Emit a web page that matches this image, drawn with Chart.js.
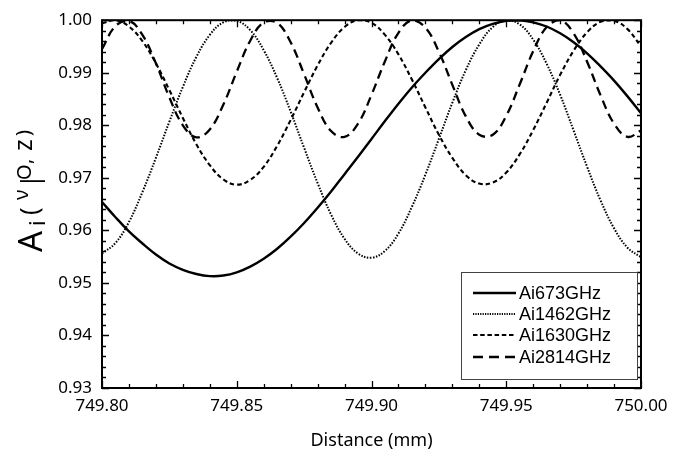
<!DOCTYPE html>
<html lang="en">
<head>
    <meta charset="UTF-8">
    <title>Ai vs distance</title>
    <script src="https://cdn.jsdelivr.net/npm/chart.js@4.4.1/dist/chart.umd.min.js"></script>
    <style>
        html, body { margin: 0; padding: 0; background: #fff; }
        #wrap { width: 694px; height: 457px; }
    </style>
</head>
<body>
<div id="wrap"><canvas id="myChart" width="694" height="457"></canvas></div>
<script>
    // distance in mm, one reading every 0.005 mm
    const distance = [
        749.800, 749.805, 749.810, 749.815, 749.820, 749.825, 749.830, 749.835, 749.840, 749.845,
        749.850, 749.855, 749.860, 749.865, 749.870, 749.875, 749.880, 749.885, 749.890, 749.895,
        749.900, 749.905, 749.910, 749.915, 749.920, 749.925, 749.930, 749.935, 749.940, 749.945,
        749.950, 749.955, 749.960, 749.965, 749.970, 749.975, 749.980, 749.985, 749.990, 749.995,
        750.000
    ];
    const ai673 = [
        0.9654, 0.9625, 0.9598, 0.9575, 0.9554, 0.9537, 0.9525, 0.9517, 0.9513, 0.9514,
        0.9520, 0.9531, 0.9546, 0.9565, 0.9588, 0.9614, 0.9643, 0.9674, 0.9707, 0.9740,
        0.9774, 0.9808, 0.9841, 0.9872, 0.9900, 0.9926, 0.9949, 0.9968, 0.9983, 0.9993,
        0.9999, 1.0000, 0.9996, 0.9988, 0.9975, 0.9958, 0.9937, 0.9912, 0.9885, 0.9855,
        0.9823
    ];
    const ai1462 = [
        0.9556, 0.9576, 0.9616, 0.9673, 0.9738, 0.9807, 0.9873, 0.9930, 0.9972, 0.9996,
        0.9999, 0.9981, 0.9943, 0.9890, 0.9826, 0.9757, 0.9690, 0.9630, 0.9584, 0.9556,
        0.9548, 0.9561, 0.9594, 0.9645, 0.9706, 0.9774, 0.9843, 0.9905, 0.9954, 0.9987,
        1.0000, 0.9992, 0.9963, 0.9917, 0.9858, 0.9790, 0.9721, 0.9657, 0.9604, 0.9567,
        0.9549
    ];
    const ai1630 = [
        0.9994, 1.0000, 0.9988, 0.9960, 0.9918, 0.9867, 0.9814, 0.9764, 0.9724, 0.9697,
        0.9687, 0.9696, 0.9721, 0.9761, 0.9810, 0.9863, 0.9914, 0.9957, 0.9987, 1.0000,
        0.9995, 0.9972, 0.9935, 0.9887, 0.9834, 0.9782, 0.9738, 0.9705, 0.9689, 0.9691,
        0.9710, 0.9745, 0.9791, 0.9843, 0.9896, 0.9942, 0.9977, 0.9997, 0.9999, 0.9983,
        0.9950
    ];
    const ai2814 = [
        0.9945, 0.9989, 0.9999, 0.9972, 0.9918, 0.9853, 0.9800, 0.9777, 0.9792, 0.9839,
        0.9902, 0.9961, 0.9996, 0.9995, 0.9958, 0.9897, 0.9834, 0.9789, 0.9778, 0.9803,
        0.9858, 0.9922, 0.9976, 1.0000, 0.9986, 0.9940, 0.9877, 0.9817, 0.9782, 0.9782,
        0.9818, 0.9878, 0.9941, 0.9987, 1.0000, 0.9975, 0.9921, 0.9857, 0.9803, 0.9778,
        0.9790
    ];
    const seriesNames = ['Ai673GHz', 'Ai1462GHz', 'Ai1630GHz', 'Ai2814GHz'];
    const xTickLabels = ['749.80', '749.85', '749.90', '749.95', '750.00'];
    const yTickLabels = ['0.93', '0.94', '0.95', '0.96', '0.97', '0.98', '0.99', '1.00'];

    const tickFont = '"Noto Sans", sans-serif';

    function pts(ys) {
        return distance.map((x, i) => ({x: x, y: ys[i]}));
    }

    // box around the plot with ticks pointing inward on all four sides
    const frameTicks = {
        id: 'frameTicks',
        afterDatasetsDraw(chart) {
            const ctx = chart.ctx;
            const a = chart.chartArea;
            const xs = chart.scales.x, ys = chart.scales.y;
            ctx.save();
            ctx.strokeStyle = '#000';
            ctx.lineWidth = 1.3;
            ctx.beginPath();
            for (let k = 0; k <= 20; k++) {
                const px = Math.round(xs.getPixelForValue(749.8 + k * 0.01)) + 0.5;
                const len = (k % 5 === 0) ? 7 : 4;
                ctx.moveTo(px, a.bottom); ctx.lineTo(px, a.bottom - len);
                ctx.moveTo(px, a.top); ctx.lineTo(px, a.top + len);
            }
            for (let k = 0; k <= 35; k++) {
                const py = Math.round(ys.getPixelForValue(0.93 + k * 0.002)) + 0.5;
                const len = (k % 5 === 0) ? 7 : 4;
                ctx.moveTo(a.left, py); ctx.lineTo(a.left + len, py);
                ctx.moveTo(a.right, py); ctx.lineTo(a.right - len, py);
            }
            ctx.stroke();
            ctx.lineWidth = 2;
            ctx.strokeRect(a.left, a.top, a.right - a.left, a.bottom - a.top);
            ctx.restore();
        }
    };

    // y title A_i(v|O, z) drawn piece by piece, rotated
    const yTitle = {
        id: 'yTitle',
        afterDraw(chart) {
            const ctx = chart.ctx;
            // text, size, bottom edge (px from top), baseline x
            const parts = [
                ['A', 33, 252, 42],
                ['i', 22, 226, 45],
                ['(', 25, 215, 38],
                ['\u03bd', 20, 200, 28],
                ['|', 25, 188, 39],
                ['O', 20, 180, 31],
                [',', 20, 164, 31],
                ['z', 25, 151, 32],
                [')', 20, 136, 30]
            ];
            ctx.save();
            ctx.fillStyle = '#000';
            ctx.textAlign = 'left';
            ctx.textBaseline = 'alphabetic';
            ctx.rotate(-Math.PI / 2);
            parts.forEach(p => {
                ctx.font = p[1] + 'px ' + tickFont;
                ctx.fillText(p[0], -p[2], p[3]);
            });
            ctx.restore();
        }
    };

    // legend box in the lower right corner
    const cornerLegend = {
        id: 'cornerLegend',
        afterDraw(chart) {
            const ctx = chart.ctx;
            const rows = [293, 314, 335, 357];
            ctx.save();
            ctx.fillStyle = '#fff';
            ctx.fillRect(461, 272, 176, 107);
            ctx.strokeStyle = '#444';
            ctx.lineWidth = 1;
            ctx.strokeRect(461.5, 272.5, 176, 107);
            chart.data.datasets.forEach((ds, i) => {
                ctx.strokeStyle = '#000';
                ctx.lineWidth = ds.borderWidth;
                ctx.setLineDash(ds.legendDash || []);
                ctx.beginPath();
                ctx.moveTo(473, rows[i]);
                ctx.lineTo(516, rows[i]);
                ctx.stroke();
                ctx.setLineDash([]);
                ctx.fillStyle = '#000';
                ctx.font = '18px "Liberation Sans", Arial, sans-serif';
                ctx.textBaseline = 'middle';
                ctx.fillText(ds.label, 519, rows[i] + 1);
            });
            ctx.restore();
        }
    };

    const data = {
        datasets: [
            {label: seriesNames[0], data: pts(ai673), borderColor: '#000', borderWidth: 2.4,
                borderDash: [], legendDash: []},
            {label: seriesNames[1], data: pts(ai1462), borderColor: '#000', borderWidth: 2,
                borderDash: [1.5, 1.5], legendDash: [1.2, 1.2]},
            {label: seriesNames[2], data: pts(ai1630), borderColor: '#000', borderWidth: 2.1,
                borderDash: [4.5, 3], legendDash: [4.5, 2.7]},
            {label: seriesNames[3], data: pts(ai2814), borderColor: '#000', borderWidth: 2.3,
                borderDash: [9, 5.5], legendDash: [10, 6]}
        ]
    };

    const options = {
        responsive: false,
        animation: false,
        layout: {padding: {left: 0, right: 53, top: 12, bottom: 0}},
        elements: {point: {radius: 0}, line: {tension: 0.4, fill: false}},
        plugins: {legend: {display: false}, tooltip: {enabled: false}},
        scales: {
            x: {
                type: 'linear',
                min: 749.8,
                max: 750.0,
                grid: {display: false, drawTicks: false},
                border: {display: false},
                ticks: {
                    stepSize: 0.05,
                    padding: 8,
                    color: '#000',
                    font: {family: tickFont, size: 17},
                    maxRotation: 0,
                    callback: (v) => {
                        const i = Math.round((v - 749.8) / 0.05);
                        return xTickLabels[i];
                    }
                },
                title: {
                    display: true,
                    text: 'Distance (mm)',
                    color: '#000',
                    font: {family: tickFont, size: 18},
                    padding: {top: 0, bottom: 5}
                },
                afterFit: (s) => { s.height = 69; }
            },
            y: {
                min: 0.93,
                max: 1.0,
                grid: {display: false, drawTicks: false},
                border: {display: false},
                ticks: {
                    stepSize: 0.01,
                    padding: 10,
                    color: '#000',
                    font: {family: tickFont, size: 17},
                    callback: (v) => {
                        const i = Math.round((v - 0.93) / 0.01);
                        return yTickLabels[i];
                    }
                },
                afterFit: (s) => { s.width = 102; }
            }
        }
    };

    new Chart(document.getElementById('myChart'), {
        type: 'line',
        data: data,
        options: options,
        plugins: [frameTicks, yTitle, cornerLegend]
    });
</script>
</body>
</html>
